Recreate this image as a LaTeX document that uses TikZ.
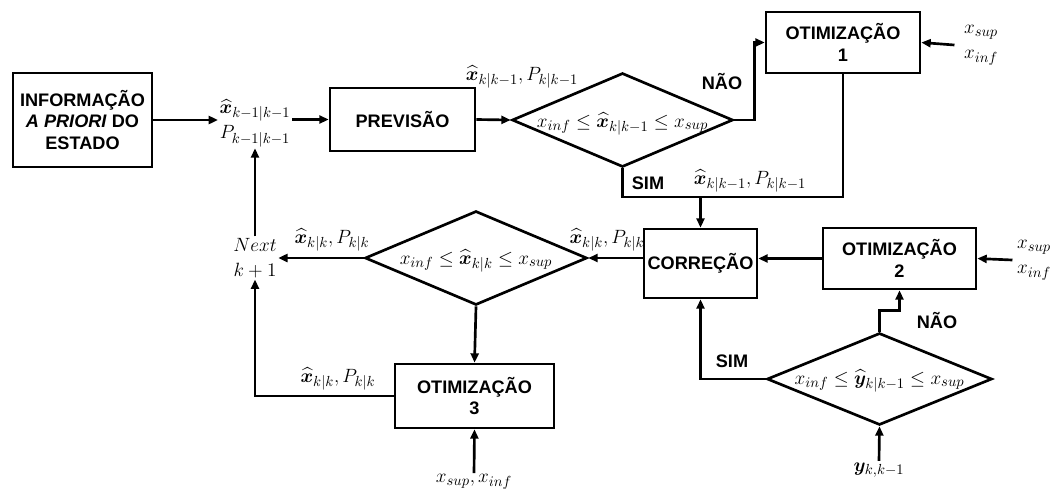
\documentclass[tikz,border=0pt]{standalone}
\usepackage{fontspec}
\usepackage{amsmath,bm}
\newfontfamily\lsans{Liberation Sans}
\usetikzlibrary{arrows.meta,shapes.geometric,calc}

\newcommand{\xh}{\widehat{\bm{x}}}
\newcommand{\yh}{\widehat{\bm{y}}}

\begin{document}
\begin{tikzpicture}[x=0.75pt,y=-0.75pt,
  box/.style={draw, line width=2pt, inner sep=2pt, align=center,
    font=\lsans\bfseries\fontsize{13.6}{16}\selectfont},
  decision/.style={draw, diamond, line width=2pt, inner sep=0pt},
  lbl/.style={inner sep=1pt, align=center, font=\fontsize{15}{19}\selectfont},
  tag/.style={inner sep=0pt, font=\lsans\bfseries\fontsize{13.6}{16}\selectfont},
  flow/.style={line width=2pt, -{Triangle[length=7pt,width=6pt]}},
  link/.style={line width=2pt}]
\useasboundingbox (0,0) rectangle (1055,497);

% blocks
\node[box, minimum width=104.25pt, minimum height=70.5pt] (info) at (82.5,120)
  {INFORMAÇÃO\\\textit{A PRIORI} DO\\ESTADO};
\node[box, minimum width=108.75pt, minimum height=47.25pt] (prev) at (402.5,119.5) {PREVISÃO};
\node[decision, minimum width=165.75pt, minimum height=70.5pt] (d1) at (622.5,120) {};
\node[box, minimum width=115.5pt, minimum height=45.75pt] (o1) at (843,42.5) {OTIMIZAÇÃO\\1};
\node[box, inner sep=1pt, minimum width=84.75pt, minimum height=51.75pt] (corr) at (700.5,263.5) {CORREÇÃO};
\node[box, minimum width=114.75pt, minimum height=45.75pt] (o2) at (899.5,258.5) {OTIMIZAÇÃO\\2};
\node[decision, minimum width=168.75pt, minimum height=69pt] (d2) at (879.5,379) {};
\node[decision, minimum width=166.5pt, minimum height=70.5pt] (d3) at (476,258) {};
\node[box, minimum width=119.25pt, minimum height=48pt] (o3) at (474.5,396) {OTIMIZAÇÃO\\3};

% conditions inside the decisions
\node[lbl] (c1) at (622.5,124) {$x_{inf}\leq\xh_{k|k-1}\leq x_{sup}$};
\node[lbl] (c2) at (879.5,381) {$x_{inf}\leq\yh_{k|k-1}\leq x_{sup}$};
\node[lbl] (c3) at (476,261) {$x_{inf}\leq\xh_{k|k}\leq x_{sup}$};

% state labels
\node[lbl] (s0) at (255,123) {$\xh_{k-1|k-1}$\\$P_{k-1|k-1}$};
\node[lbl] (nx) at (255,258) {$Next$\\$k+1$};
\node[lbl] (s1) at (522,77) {$\xh_{k|k-1}, P_{k|k-1}$};
\node[lbl] (s2) at (750,181) {$\xh_{k|k-1}, P_{k|k-1}$};
\node[lbl] (s3) at (607,240) {$\xh_{k|k}, P_{k|k}$};
\node[lbl] (s4) at (332,240) {$\xh_{k|k}, P_{k|k}$};
\node[lbl] (s5) at (338,379) {$\xh_{k|k}, P_{k|k}$};

% external inputs
\node[lbl] (in1) at (981,45) {$x_{sup}$\\$x_{inf}$};
\node[lbl] (in2) at (1034,260) {$x_{sup}$\\$x_{inf}$};
\node[lbl] (in3) at (474,482) {$x_{sup}, x_{inf}$};
\node[lbl] (in4) at (879,470) {$\bm{y}_{k,k-1}$};

% branch tags
\node[tag] (n1) at (722,82) {NÃO};
\node[tag] (y1) at (648,183) {SIM};
\node[tag] (n2) at (937,321) {NÃO};
\node[tag] (y2) at (732,361) {SIM};

% connectors
\path (0,197) coordinate (lvl);
\draw[flow] (info.east) -- (info.east -| s0.west);
\draw[flow] (s0.east |- prev.west) -- (prev.west);
\draw[flow] (prev.east) -- (d1.west);
\draw[flow] (d1.east) -- ++(20,0) |- (o1.west);
\draw[link] (d1.south) |- (o1.south |- lvl) -- (o1.south);
\draw[flow] (corr.north |- lvl) -- (corr.north);
\draw[flow] (in1.west) ++(-8,0) -- (o1.east);
\draw[flow] (o2.west) -- (corr.east |- o2.west);
\draw[flow] (in2.west) ++(-3,0) -- (o2.east);
\draw[flow] (d2.north) -- ++(0,-21) -| (o2.south);
\draw[flow] (d2.west) -| (corr.south);
\draw[flow] (in4.north) -- (d2.south);
\draw[flow] (corr.west |- d3.east) -- (d3.east);
\draw[flow] (d3.west) -- (nx.east);
\draw[flow] (d3.south) -- (o3.north);
\draw[flow] (in3.north) -- (o3.south);
\draw[flow] (o3.west) -| (nx.south);
\draw[flow] (nx.north) -- (s0.south);
\end{tikzpicture}
\end{document}
